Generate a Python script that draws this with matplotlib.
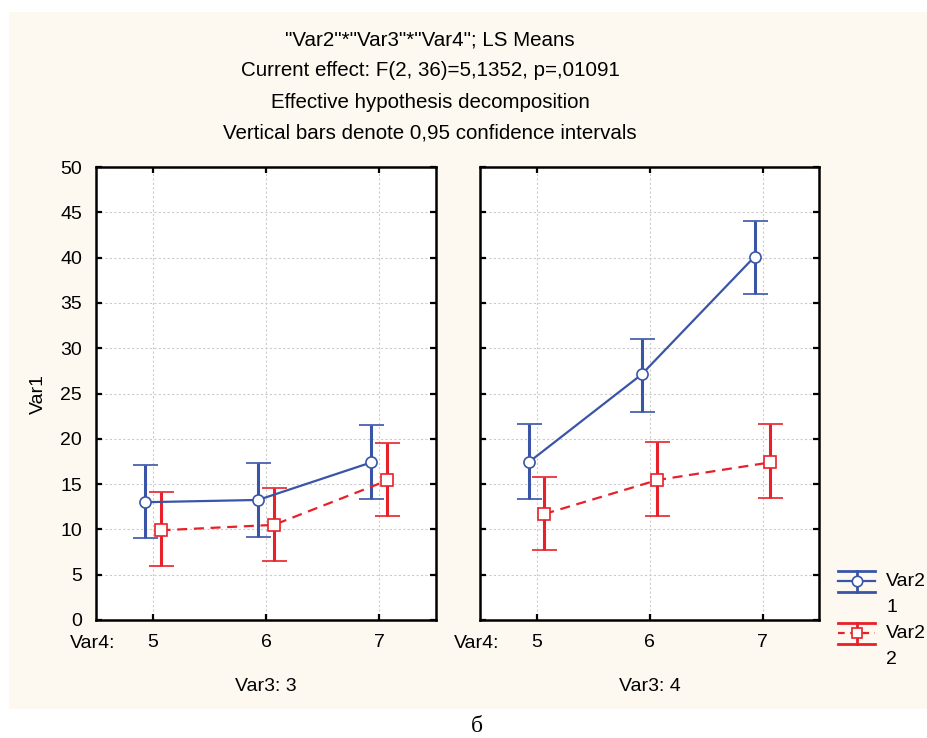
import matplotlib
matplotlib.use('Agg')
import matplotlib.pyplot as plt
from matplotlib.lines import Line2D
from matplotlib.patches import Rectangle

# --- data ---
var4_levels = [5, 6, 7]
panel_titles = ['Var3: 3', 'Var3: 4']
legend_labels = ['Var2\n1', 'Var2\n2']

# Var3 = 3
blue_mean_3 = [13.0, 13.25, 17.4]
blue_lo_3 = [9.0, 9.2, 13.4]
blue_hi_3 = [17.1, 17.3, 21.5]
red_mean_3 = [9.9, 10.5, 15.4]
red_lo_3 = [6.0, 6.5, 11.5]
red_hi_3 = [14.1, 14.6, 19.5]

# Var3 = 4
blue_mean_4 = [17.4, 27.1, 40.1]
blue_lo_4 = [13.4, 23.0, 36.0]
blue_hi_4 = [21.6, 31.0, 44.0]
red_mean_4 = [11.7, 15.45, 17.4]
red_lo_4 = [7.7, 11.5, 13.5]
red_hi_4 = [15.8, 19.6, 21.6]

title_lines = [
    '"Var2"*"Var3"*"Var4"; LS Means',
    'Current effect: F(2, 36)=5,1352, p=,01091',
    'Effective hypothesis decomposition',
    'Vertical bars denote 0,95 confidence intervals',
]

BLUE = '#3a55a8'
RED = '#e8202a'
CREAM = '#fdf9f0'
FONT = 'Liberation Sans'
FS = 14
TFS = 14.8

plt.rcParams['font.family'] = [FONT, 'DejaVu Sans']
plt.rcParams['font.size'] = FS

W, H = 927, 738
fig = plt.figure(figsize=(W / 100, H / 100), dpi=100, facecolor='white')


def fx(px):
    return px / W


def fy(py):
    return 1 - py / H


# cream panel behind the chart
fig.add_artist(Rectangle((fx(9), fy(709)), fx(927) - fx(9), fy(12) - fy(709),
                         transform=fig.transFigure, facecolor=CREAM,
                         edgecolor='none', zorder=-10))

for i, line in enumerate(title_lines):
    fig.text(fx(430), fy(40 + 31 * i), line, ha='center', va='center', fontsize=TFS)

ax_l = fig.add_axes([fx(96), fy(620), fx(436) - fx(96), fy(167) - fy(620)])
ax_r = fig.add_axes([fx(480), fy(620), fx(819) - fx(480), fy(167) - fy(620)], sharey=ax_l)

panels = [
    (ax_l, blue_mean_3, blue_lo_3, blue_hi_3, red_mean_3, red_lo_3, red_hi_3),
    (ax_r, blue_mean_4, blue_lo_4, blue_hi_4, red_mean_4, red_lo_4, red_hi_4),
]

shift = 0.07
for k, (ax, bm, bl, bh, rm, rl, rh) in enumerate(panels):
    xb = [v - shift for v in var4_levels]
    xr = [v + shift for v in var4_levels]
    berr = [[m - l for m, l in zip(bm, bl)], [h - m for m, h in zip(bm, bh)]]
    rerr = [[m - l for m, l in zip(rm, rl)], [h - m for m, h in zip(rm, rh)]]

    ax.errorbar(xb, bm, yerr=berr, color=BLUE, lw=1.6, elinewidth=2.2,
                capsize=9, capthick=2.2, marker='o', ms=8, mfc='white',
                mec=BLUE, mew=1.2, zorder=3)
    ax.errorbar(xr, rm, yerr=rerr, color=RED, lw=1.6, ls=(0, (4.5, 3)),
                elinewidth=2.2, capsize=9, capthick=2.2, marker='s', ms=8,
                mfc='white', mec=RED, mew=1.2, zorder=3)

    ax.set_xlim(4.5, 7.5)
    ax.set_ylim(0, 50)
    ax.set_xticks(var4_levels)
    ax.set_yticks(range(0, 51, 5))
    ax.set_facecolor('white')
    ax.grid(True, color='#cccccc', ls=(0, (2, 2)), lw=0.8)
    ax.set_axisbelow(True)
    ax.tick_params(direction='in', top=True, right=True, length=4, width=1.6,
                   labelsize=FS, pad=10)
    for sp in ax.spines.values():
        sp.set_linewidth(1.8)
        sp.set_color('black')

    ax.set_xlabel(panel_titles[k], fontsize=FS)
    ax.xaxis.set_label_coords(0.5, -0.128)
    ax.text(-0.078, -0.051, 'Var4:', transform=ax.transAxes, ha='left',
            va='center', fontsize=FS)

ax_l.set_ylabel('Var1', fontsize=FS)
ax_l.yaxis.set_label_coords(-0.145, 0.5)
ax_r.tick_params(labelleft=False)

# legend drawn in the margin, STATISTICA style
legend_specs = [(BLUE, 'o', '-', 581, legend_labels[0]),
                (RED, 's', (0, (3, 2.5)), 633, legend_labels[1])]
for color, mk, ls, yc, label in legend_specs:
    x0, x1, xm = 838, 875, 856.5
    for yy in (yc - 10.5, yc + 10.5):
        fig.add_artist(Line2D([fx(x0), fx(x1)], [fy(yy), fy(yy)], color=color,
                              lw=2.0, transform=fig.transFigure))
    fig.add_artist(Line2D([fx(xm), fx(xm)], [fy(yc - 10.5), fy(yc + 10.5)],
                          color=color, lw=2.0, transform=fig.transFigure))
    fig.add_artist(Line2D([fx(x0), fx(x1)], [fy(yc), fy(yc)], color=color,
                          lw=1.6, ls=ls, transform=fig.transFigure))
    fig.add_artist(Line2D([fx(xm)], [fy(yc)], color=color, marker=mk, ms=7.5,
                          mfc='white', mec=color, mew=1.2,
                          transform=fig.transFigure))
    first, second = label.split('\n')
    fig.text(fx(886), fy(yc), first, ha='left', va='center', fontsize=FS)
    fig.text(fx(886), fy(yc + 26), second, ha='left', va='center', fontsize=FS)

fig.text(fx(477), fy(727), 'б', ha='center', va='center', fontsize=17,
         family=['Liberation Serif', 'DejaVu Serif'])

fig.savefig('out.png', dpi=100, facecolor='white')
